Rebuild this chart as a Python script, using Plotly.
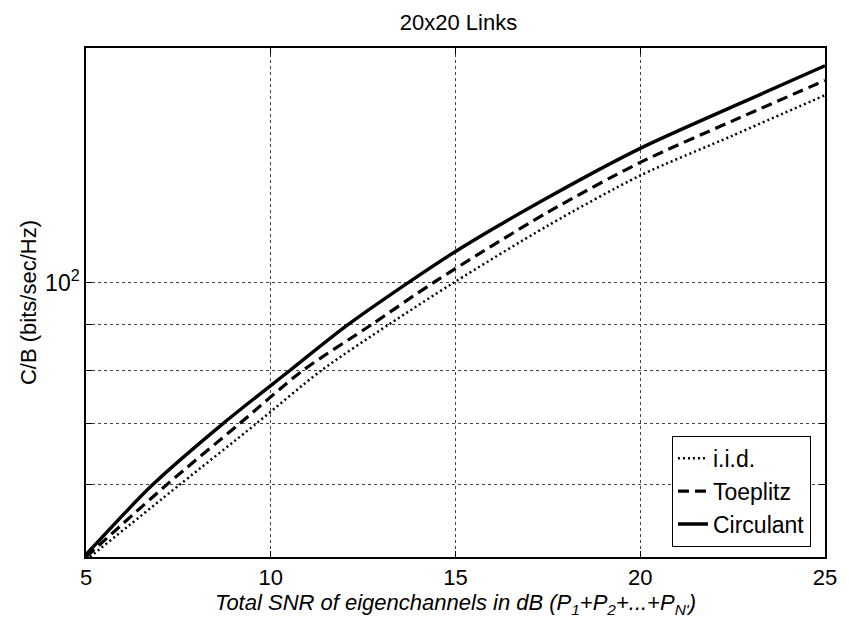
import plotly.graph_objects as go

# Data (x: total SNR in dB, y: C/B in bits/sec/Hz)
circ_x = [5, 6.8, 8.7, 10.5, 12.1, 15, 17.5, 20, 22.5, 25]
circ_y = [50.3, 60, 70, 80, 90, 108.2, 124.0, 140.4, 156.0, 173.0]

toep_x = [5, 7.18, 9.15, 10.85, 12.74, 14.4, 17.5, 20, 22.5, 25]
toep_y = [50.0, 60, 70, 80, 90, 100, 119.5, 135.5, 150.5, 166.7]

iid_x = [5, 7.53, 9.6, 11.35, 13.2, 14.95, 17.5, 20, 22.5, 25]
iid_y = [49.6, 60, 70, 80, 90, 100, 115.5, 131.1, 145.0, 160.6]

x_ticks = [5, 10, 15, 20, 25]
y_grid = [60, 70, 80, 90, 100]
y_ticktext = ["", "", "", "", "10<sup>2</sup>"]

FONT = "Liberation Sans, Arial, Helvetica, sans-serif"

fig = go.Figure()
fig.add_trace(go.Scatter(x=iid_x, y=iid_y, mode="lines", name="i.i.d.", line_shape="spline",
                         line=dict(color="black", width=2.5, dash="2px,3px", smoothing=0.8)))
fig.add_trace(go.Scatter(x=toep_x, y=toep_y, mode="lines", name="Toeplitz", line_shape="spline",
                         line=dict(color="black", width=3.2, dash="11px,6px", smoothing=0.8)))
fig.add_trace(go.Scatter(x=circ_x, y=circ_y, mode="lines", name="Circulant", line_shape="spline",
                         line=dict(color="black", width=3.4, smoothing=0.8)))

fig.update_layout(
    width=849, height=625,
    margin=dict(l=86, r=21, t=48, b=68),
    paper_bgcolor="white", plot_bgcolor="white",
    font=dict(family=FONT, color="black", size=21),
    title=dict(text="20x20 Links", x=0.54, xanchor="center", y=0.965, yanchor="middle",
               font=dict(size=22, family=FONT)),
    showlegend=True,
    legend=dict(x=0.981, xanchor="right", y=0.02, yanchor="bottom",
                bgcolor="white", bordercolor="black", borderwidth=1,
                font=dict(size=23, family=FONT), tracegroupgap=0,
                itemwidth=30),
)

fig.update_xaxes(
    range=[5, 25], tickvals=x_ticks, ticks="inside", ticklen=6, tickcolor="black",
    showline=True, linecolor="black", linewidth=1.5, mirror="ticks",
    showgrid=True, gridcolor="#444", griddash="dot", gridwidth=1,
    zeroline=False, tickfont=dict(size=22),
    title=dict(text="<i>Total SNR of eigenchannels in dB (P<sub>1</sub>+P<sub>2</sub>+...+P<sub>N'</sub>)</i>",
               font=dict(size=22), standoff=0),
)
fig.update_yaxes(
    type="log", range=[1.69897, 2.2575], tickvals=y_grid, ticktext=y_ticktext,
    ticks="inside", ticklen=6, tickcolor="black",
    showline=True, linecolor="black", linewidth=1.5, mirror="ticks",
    showgrid=True, gridcolor="#444", griddash="dot", gridwidth=1,
    zeroline=False, tickfont=dict(size=23),
    title=dict(text="C/B (bits/sec/Hz)", font=dict(size=22), standoff=2),
)

fig.write_html("out.html")
